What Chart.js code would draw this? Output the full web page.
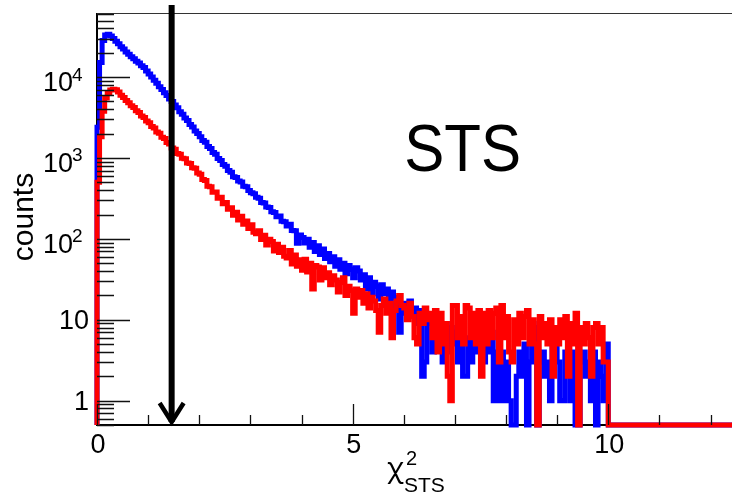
<!DOCTYPE html>
<html>
<head>
<meta charset="utf-8">
<title>chi2 STS</title>
<script src="https://cdn.jsdelivr.net/npm/chart.js@4.4.1/dist/chart.umd.min.js"></script>
<style>
  html, body { margin: 0; padding: 0; background: #fff; }
  #plot { display: block; }
</style>
</head>
<body>
<canvas id="plot" width="732" height="495" style="width:732px;height:495px"></canvas>
<script>
// histogram binning: 200 bins of 0.05 from 0 to 10, empty above
const BIN_WIDTH = 0.05;
const X_MIN = 0;
const X_MAX = 12.42;
const Y_MIN = 0.5;
const Y_MAX = 62000;

const RED_COUNTS = [
  500, 1830, 3790, 5520, 6430, 6920, 7080, 6980, 6530, 5970,
  5600, 5120, 4830, 4420, 4200, 3840, 3650, 3310, 3170, 2870,
  2720, 2450, 2340, 2100, 2020, 1810, 1740, 1550, 1490, 1330,
  1280, 1140, 1110, 990, 975, 870, 855, 755, 745, 650,
  628, 541, 527, 448, 441, 378, 380, 318, 327, 272,
  281, 232, 242, 196, 213, 171, 190, 152, 166, 134,
  150, 121, 116, 126, 98, 111, 84, 99, 93, 71,
  86, 68, 79, 61, 58, 72, 49, 63, 46, 55,
  41, 56, 39, 50, 24, 47, 45, 31, 44, 33,
  38, 27, 35, 31, 22, 29, 33, 20, 26, 23,
  12, 24, 19, 23, 16, 21, 14, 19, 17, 13,
  7, 15, 18, 12, 16, 6, 13, 17, 20, 15,
  14, 10, 16, 11, 6, 5, 12, 9, 14, 10,
  12, 6, 13, 4, 12, 5, 9, 2, 1, 15,
  15, 6, 11, 5, 15, 14, 6, 12, 5, 13,
  2, 12, 5, 13, 6, 12, 14, 3, 15, 6,
  11, 4, 3, 10, 5, 12, 6, 11, 13, 5,
  10, 5, 0, 11, 6, 9, 5, 10, 2, 8,
  5, 10, 6, 11, 2, 9, 5, 12, 0, 8,
  5, 9, 6, 2, 8, 9, 5, 8, 3, 3
];

const BLUE_COUNTS = [
  2400, 15100, 28300, 33200, 33900, 32300, 30100, 27700, 25900, 23800,
  22300, 20500, 19200, 17800, 16900, 15700, 14900, 13800, 13100, 11900,
  10900, 10050, 9150, 8400, 7620, 7050, 6390, 5930, 5360, 4980,
  4520, 4170, 3740, 3480, 3120, 2910, 2590, 2420, 2160, 2010,
  1830, 1650, 1560, 1390, 1310, 1170, 1110, 985, 930, 830,
  789, 701, 664, 585, 572, 519, 503, 448, 441, 396,
  372, 361, 327, 318, 281, 277, 247, 245, 216, 212,
  188, 192, 165, 163, 144, 152, 127, 126, 88, 112,
  104, 89, 99, 79, 90, 70, 82, 64, 75, 57,
  66, 52, 60, 46, 55, 42, 50, 37, 47, 42,
  33, 44, 40, 31, 36, 24, 33, 21, 29, 26,
  18, 27, 21, 24, 15, 22, 19, 14, 7, 16,
  12, 16, 17, 11, 14, 9, 13, 2, 3, 11,
  9, 4, 10, 5, 8, 3, 9, 4, 8, 5,
  7, 3, 9, 2, 2, 6, 3, 7, 4, 6,
  8, 3, 6, 4, 7, 1, 4, 1, 4, 1,
  3, 1, 0, 0, 2, 4, 2, 5, 0, 3,
  9, 8, 0, 3, 4, 2, 3, 1, 5, 5,
  3, 1, 1, 4, 3, 1, 4, 0, 0, 3,
  4, 2, 3, 1, 4, 0, 3, 2, 1, 5
];

// axis labels
const Y_LABEL_VALUES = [1, 10, 100, 1000, 10000];
const Y_LABEL_BASE = ['1', '10', '10', '10', '10'];
const Y_LABEL_EXP = ['', '', '2', '3', '4'];
const X_LABEL_VALUES = [0, 5, 10];
const X_LABELS = ['0', '5', '10'];

// cut marker and pad label
const ARROW_X = 1.46;
const PAD_TEXT = 'STS';
const PAD_TEXT_AT = { x: 7.15, y: 690 };

const FONT = '"Liberation Sans", Arial, Helvetica, sans-serif';

// turn bin contents into a step outline; empty bins sit on the lower edge like ROOT does
function stepOutline(counts) {
  const pts = [{ x: 0, y: Y_MIN }];
  counts.forEach((c, i) => {
    const v = c > 0 ? c : Y_MIN;
    pts.push({ x: i * BIN_WIDTH, y: v });
    pts.push({ x: (i + 1) * BIN_WIDTH, y: v });
  });
  pts.push({ x: counts.length * BIN_WIDTH, y: Y_MIN });
  pts.push({ x: X_MAX, y: Y_MIN });
  return pts;
}

const rootAxes = {
  id: 'rootAxes',
  beforeDatasetsDraw(chart) {
    const { ctx, chartArea: a } = chart;
    ctx.save();
    ctx.strokeStyle = '#000';
    ctx.lineWidth = 2;
    ctx.beginPath();
    ctx.moveTo(a.left, a.top);
    ctx.lineTo(a.left, a.bottom);
    ctx.lineTo(a.right, a.bottom);
    ctx.stroke();
    ctx.strokeStyle = '#333';
    ctx.lineWidth = 1.2;
    ctx.beginPath();
    ctx.moveTo(a.left, a.top + 0.5);
    ctx.lineTo(a.right, a.top + 0.5);
    ctx.stroke();
    ctx.restore();
  },
  afterDatasetsDraw(chart) {
    const { ctx, chartArea: a } = chart;
    const xs = chart.scales.x, ys = chart.scales.y;
    ctx.save();
    ctx.strokeStyle = '#111';
    ctx.lineWidth = 1.3;
    ctx.beginPath();
    // log ticks on y
    for (let d = -1; d <= 5; d++) {
      for (let m = 1; m <= 9; m++) {
        const v = m * Math.pow(10, d);
        if (v < Y_MIN || v > Y_MAX) continue;
        const py = Math.round(ys.getPixelForValue(v)) + 0.5;
        ctx.moveTo(a.left, py);
        ctx.lineTo(a.left + (m === 1 ? 33 : 17), py);
      }
    }
    // unit ticks on x
    for (let u = 0; u <= Math.floor(X_MAX); u++) {
      const px = Math.round(xs.getPixelForValue(u)) + 0.5;
      ctx.moveTo(px, a.bottom);
      ctx.lineTo(px, a.bottom - (u % 5 === 0 ? 21 : 10));
    }
    ctx.stroke();

    ctx.fillStyle = '#000';
    ctx.textBaseline = 'alphabetic';
    Y_LABEL_VALUES.forEach((v, i) => {
      const py = ys.getPixelForValue(v);
      if (Y_LABEL_EXP[i]) {
        ctx.font = '27px ' + FONT;
        ctx.textAlign = 'right';
        ctx.fillText(Y_LABEL_BASE[i], 73, py + 14);
        ctx.font = '19px ' + FONT;
        ctx.textAlign = 'left';
        ctx.fillText(Y_LABEL_EXP[i], 72, py + 3.5);
      } else {
        ctx.font = '27px ' + FONT;
        ctx.textAlign = 'right';
        ctx.fillText(Y_LABEL_BASE[i], 89, py + 9.7);
      }
    });
    ctx.font = '27px ' + FONT;
    ctx.textAlign = 'center';
    X_LABEL_VALUES.forEach((v, i) => {
      ctx.fillText(X_LABELS[i], xs.getPixelForValue(v) + 1, a.bottom + 28);
    });
    ctx.restore();
  },
  afterDraw(chart) {
    const { ctx, chartArea: a } = chart;
    const xs = chart.scales.x, ys = chart.scales.y;
    ctx.save();
    // cut arrow
    const ax = xs.getPixelForValue(ARROW_X);
    const tipY = ys.getPixelForValue(Y_MIN) - 3;
    ctx.strokeStyle = '#000';
    ctx.lineWidth = 6;
    ctx.beginPath();
    ctx.moveTo(ax, a.top - 8);
    ctx.lineTo(ax, tipY);
    ctx.stroke();
    ctx.lineWidth = 4.5;
    ctx.lineJoin = 'miter';
    ctx.beginPath();
    ctx.moveTo(ax - 12, tipY - 19);
    ctx.lineTo(ax, tipY);
    ctx.lineTo(ax + 12, tipY - 19);
    ctx.stroke();

    // pad label
    ctx.fillStyle = '#000';
    ctx.font = '66px ' + FONT;
    ctx.textAlign = 'center';
    ctx.textBaseline = 'alphabetic';
    ctx.save();
    ctx.translate(xs.getPixelForValue(PAD_TEXT_AT.x), ys.getPixelForValue(PAD_TEXT_AT.y));
    ctx.scale(0.91, 1);
    ctx.fillText(PAD_TEXT, 0, 0);
    ctx.restore();

    // y title
    ctx.save();
    ctx.translate(33, 217);
    ctx.rotate(-Math.PI / 2);
    ctx.font = '30px ' + FONT;
    ctx.textAlign = 'center';
    ctx.fillText('counts', 0, 0);
    ctx.restore();

    // x title: chi^2 with STS subscript
    ctx.textAlign = 'left';
    ctx.font = '28px "Noto Sans", ' + FONT;
    ctx.fillText('χ', 387, 477);
    ctx.font = '20px ' + FONT;
    ctx.fillText('2', 406, 465);
    ctx.font = '21px ' + FONT;
    ctx.fillText('STS', 404, 492);
    ctx.restore();
  }
};

const lineStyle = {
  pointRadius: 0,
  borderWidth: 5,
  fill: false,
  tension: 0,
  borderJoinStyle: 'miter',
  borderCapStyle: 'butt',
  clip: 3
};

new Chart(document.getElementById('plot').getContext('2d'), {
  type: 'line',
  data: {
    datasets: [
      Object.assign({ label: 'red', data: stepOutline(RED_COUNTS), borderColor: '#ff0000' }, lineStyle),
      Object.assign({ label: 'blue', data: stepOutline(BLUE_COUNTS), borderColor: '#0000ff' }, lineStyle)
    ]
  },
  options: {
    responsive: false,
    animation: false,
    layout: { padding: { left: 97, right: 0, top: 13, bottom: 70 } },
    plugins: {
      legend: { display: false },
      tooltip: { enabled: false }
    },
    scales: {
      x: { type: 'linear', min: X_MIN, max: X_MAX, display: false },
      y: { type: 'logarithmic', min: Y_MIN, max: Y_MAX, display: false }
    }
  },
  plugins: [rootAxes]
});
</script>
</body>
</html>
